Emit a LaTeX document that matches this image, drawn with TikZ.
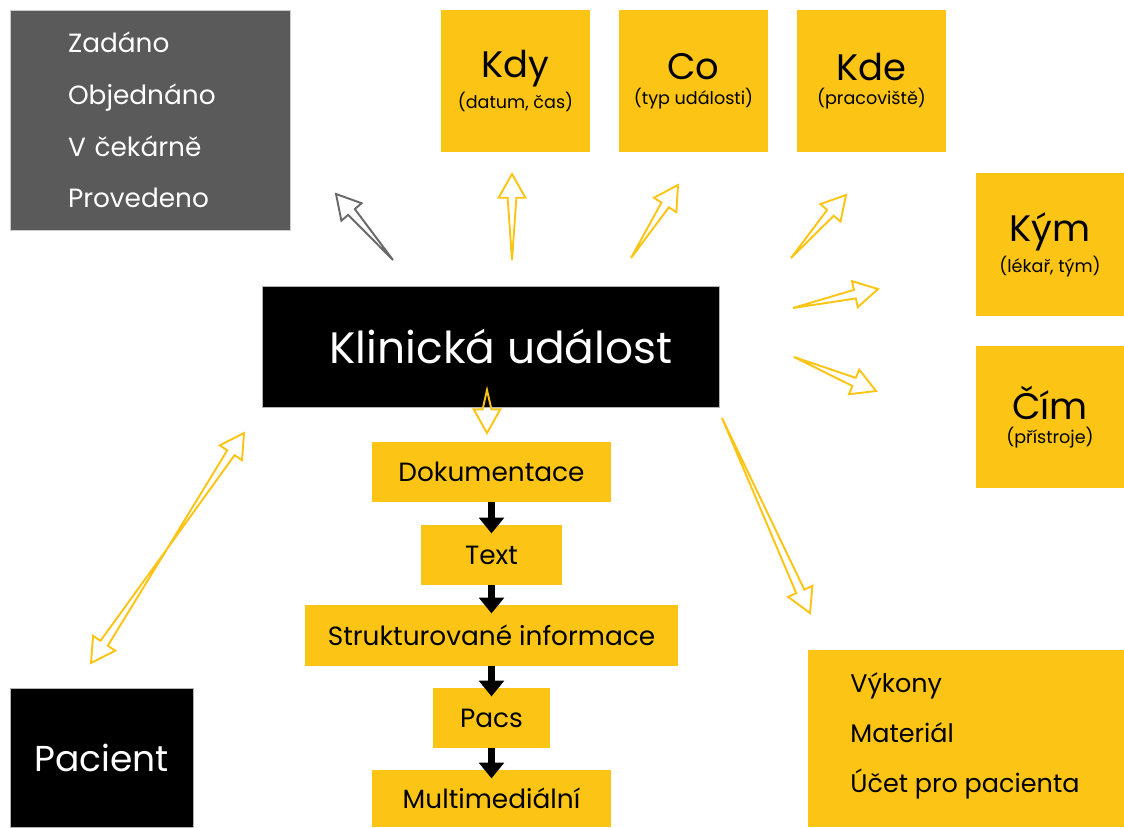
\documentclass[tikz,border=0pt]{standalone}
\usepackage{fontspec}
\setmainfont{Poppins}
\usetikzlibrary{calc,arrows.meta}
\definecolor{jaune}{RGB}{252,197,22}
\definecolor{grisfonce}{RGB}{90,90,90}
\definecolor{grisfleche}{RGB}{105,105,105}
\begin{document}
\begin{tikzpicture}[x=0.02cm,y=-0.02cm]
		\def\px{0.02cm}
		\def\LongueurTete{13.5pt}
		\def\DemiTete{7.6pt}
		\def\DemiFut{2.5pt}
		\tikzstyle{boite}=[rectangle,inner sep=0pt,align=center]
		\tikzstyle{boiteJaune}=[boite,fill=jaune,text=black]
		\tikzstyle{boiteNoire}=[boite,fill=black,draw=gray!60,line width=0.4pt,text=white]
		\tikzstyle{boiteGrise}=[boite,fill=grisfonce,draw=gray!40,line width=0.4pt,text=white]
		\tikzstyle{fleche}=[draw=jaune,line width=1.1pt,line join=miter]
		\tikzstyle{flecheGrise}=[fleche,draw=grisfleche]
		\tikzstyle{flecheNoire}=[-{Triangle[width=14pt,length=9pt]},line width=4pt,shorten >=-5pt]
		\def\grand{\fontsize{21}{24}\selectfont}
		\def\petit{\fontsize{10}{12}\selectfont}
		\def\liste{\fontsize{15}{29.5}\selectfont}
		% fleche creuse effilee : queue, pointe, style
		\def\flecheCreuse#1#2#3{%
			\coordinate (fc-b) at ($(#2)!\LongueurTete!(#1)$);
			\draw[#3] (#1) -- ($(fc-b)!\DemiFut!90:(#2)$) -- ($(fc-b)!\DemiTete!90:(#2)$) -- (#2)
				-- ($(fc-b)!\DemiTete!-90:(#2)$) -- ($(fc-b)!\DemiFut!-90:(#2)$) -- cycle;
		}
		\useasboundingbox (0,0) rectangle (1124,827);
		% boites du haut
		\node[boiteGrise,minimum width={280*\px},minimum height={220*\px},text width={164*\px},align=left,font=\liste] (etats) at (150,120) {Zadáno\\Objednáno\\V čekárně\\Provedeno};
		\node[boiteJaune,minimum width={149*\px},minimum height={142*\px}] (kdy) at (515.5,81) {{\grand Kdy}\\[2pt]{\petit (datum, čas)}};
		\node[boiteJaune,minimum width={149*\px},minimum height={142*\px}] (co) at (693.5,81) {{\grand Co}\\[2pt]{\petit (typ události)}};
		\node[boiteJaune,minimum width={149*\px},minimum height={142*\px}] (kde) at (871.5,81) {{\grand Kde}\\[2pt]{\petit (pracoviště)}};
		\node[boiteJaune,minimum width={148*\px},minimum height={143*\px}] (kym) at (1050,244.5) {{\grand Kým}\\[2pt]{\petit (lékař, tým)}};
		\node[boiteJaune,minimum width={148*\px},minimum height={142*\px}] (cim) at (1050,417) {{\grand Čím}\\[2pt]{\petit (přístroje)}};
		% evenement central
		\node[boiteNoire,minimum width={457*\px},minimum height={121*\px},font=\fontsize{25}{30}\selectfont] (evenement) at (490.5,346.5) {\hspace*{12pt}Klinická událost};
		% colonne de documentation
		\node[boiteJaune,minimum width={239*\px},minimum height={60*\px},font=\fontsize{15}{18}\selectfont] (doc) at (491.5,472) {Dokumentace};
		\node[boiteJaune,minimum width={141*\px},minimum height={60*\px},font=\fontsize{15}{18}\selectfont] (texte) at (491.5,555) {Text};
		\node[boiteJaune,minimum width={373*\px},minimum height={61*\px},font=\fontsize{15}{18}\selectfont] (struct) at (491.5,635.5) {Strukturované informace};
		\node[boiteJaune,minimum width={117*\px},minimum height={60*\px},font=\fontsize{15}{18}\selectfont] (pacs) at (491.5,718) {Pacs};
		\node[boiteJaune,minimum width={239*\px},minimum height={57*\px},font=\fontsize{15}{18}\selectfont] (multi) at (491.5,798.5) {Multimediální};
		% boites du bas
		\node[boiteNoire,minimum width={183*\px},minimum height={139*\px},font=\fontsize{20.5}{24}\selectfont] (pacient) at (101.5,757.5) {Pacient};
		\node[boiteJaune,minimum width={316*\px},minimum height={177*\px}] (facturation) at (966,738.5) {};
		\node[boite,anchor=west,align=left,font=\fontsize{14.5}{28.5}\selectfont] (listeFact) at (850,736) {Výkony\\Materiál\\Účet pro pacienta};
		% extremites des fleches creuses
		\coordinate (qEtats) at (393,260);   \coordinate (pEtats) at (336,194);
		\coordinate (qKdy) at (512,260);     \coordinate (pKdy) at (512,174);
		\coordinate (qCo) at (631,258);      \coordinate (pCo) at (678,185);
		\coordinate (qKde) at (791,258);     \coordinate (pKde) at (846,195);
		\coordinate (qKym) at (793,308);     \coordinate (pKym) at (878,289);
		\coordinate (qCim) at (794,357);     \coordinate (pCim) at (876,391);
		\coordinate (qDoc) at (487,390);     \coordinate (pDoc) at (487,433);
		\coordinate (qFact) at (722,418);    \coordinate (pFact) at (810,613);
		\coordinate (milieu) at (167,549);
		\coordinate (pEven) at (244,433);    \coordinate (pPacient) at (91,663);
		\flecheCreuse{qEtats}{pEtats}{flecheGrise}
		\flecheCreuse{qKdy}{pKdy}{fleche}
		\flecheCreuse{qCo}{pCo}{fleche}
		\flecheCreuse{qKde}{pKde}{fleche}
		\flecheCreuse{qKym}{pKym}{fleche}
		\flecheCreuse{qCim}{pCim}{fleche}
		\flecheCreuse{qDoc}{pDoc}{fleche}
		\flecheCreuse{qFact}{pFact}{fleche}
		\flecheCreuse{milieu}{pEven}{fleche}
		\flecheCreuse{milieu}{pPacient}{fleche}
		% fleches noires
		\draw[flecheNoire] (doc.south) -- (texte.north);
		\draw[flecheNoire] (texte.south) -- (struct.north);
		\draw[flecheNoire] (struct.south) -- (pacs.north);
		\draw[flecheNoire] (pacs.south) -- (multi.north);
	\end{tikzpicture}
\end{document}
